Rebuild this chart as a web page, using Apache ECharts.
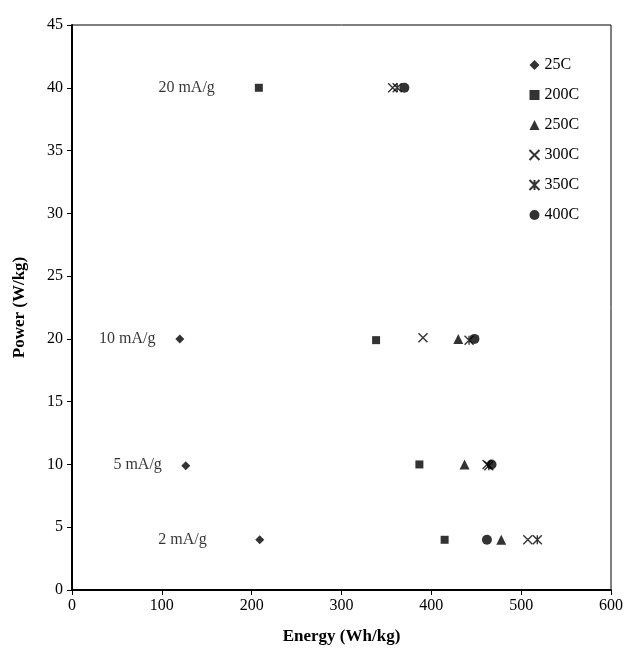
<!DOCTYPE html>
<html>
<head>
<meta charset="utf-8">
<script src="https://cdn.jsdelivr.net/npm/echarts@6/dist/echarts.min.js"></script>
<style>html,body{margin:0;padding:0;background:#fff}#c{width:626px;height:655px}</style>
</head>
<body>
<div id="c"></div>
<script>
var seriesNames = ['25C', '200C', '250C', '300C', '350C', '400C'];
var s25C  = [[120, 20], [126.6, 9.9], [209, 4]];
var s200C = [[208, 40], [338.5, 19.9], [386.7, 10], [414.8, 4]];
var s250C = [[430, 20], [437, 10], [477.8, 4]];
var s300C = [[357, 40], [390.7, 20.1], [462, 10], [507.4, 4]];
var s350C = [[362, 40], [442, 19.9], [464, 9.9], [518, 4]];
var s400C = [[370, 40], [448, 20], [467, 10], [461.9, 4]];
var annotText = ['20 mA/g', '10 mA/g', '5 mA/g', '2 mA/g'];
var annotX = [159, 93, 100, 150];
var annotY = [40, 20, 10, 4];
var xTicks = [0, 100, 200, 300, 400, 500, 600];
var yTicks = [0, 5, 10, 15, 20, 25, 30, 35, 40, 45];

var serif = '"Liberation Serif", "DejaVu Serif", serif';
var crossPath = 'path://M0,0L10,10M10,0L0,10';
var starPath = 'path://M0,0L10,10M10,0L0,10M5,0L5,10';
var symbols = ['diamond', 'rect', 'triangle', crossPath, starPath, 'circle'];
var sizes = [[9, 9], 8, 10, 9, 9, 10];
var data = [s25C, s200C, s250C, s300C, s350C, s400C];

var series = seriesNames.map(function (n, i) {
  var stroke = (i === 3 || i === 4);
  return {
    name: n, type: 'scatter', data: data[i], symbol: symbols[i], symbolSize: sizes[i],
    itemStyle: stroke ? { color: 'none', borderColor: '#000', borderWidth: 1.4 } : { color: '#000' },
    emphasis: { disabled: true }, z: 3
  };
});
series.push({
  name: 'annot', type: 'scatter', symbolSize: 0, silent: true,
  data: annotText.map(function (t, i) { return { value: [annotX[i], annotY[i]], name: t }; }),
  label: { show: true, position: 'left', distance: 0, formatter: '{b}', color: '#000', fontFamily: serif, fontSize: 16 }
});

var chart = echarts.init(document.getElementById('c'), null, { renderer: 'canvas' });
chart.setOption({
  animation: false,
  backgroundColor: '#fff',
  grid: { left: 72, right: 14, top: 25, bottom: 65, show: true, borderColor: '#000', borderWidth: 1 },
  legend: {
    data: seriesNames, orient: 'vertical', left: 522, top: 52, itemGap: 14,
    itemWidth: 10, itemHeight: 10,
    textStyle: { fontFamily: serif, fontSize: 16, color: '#000' }
  },
  xAxis: {
    type: 'value', min: xTicks[0], max: xTicks[xTicks.length - 1], interval: 100,
    name: 'Energy (Wh/kg)', nameLocation: 'middle', nameGap: 38,
    nameTextStyle: { fontFamily: serif, fontSize: 17, fontWeight: 'bold', color: '#000' },
    axisLine: { show: true, lineStyle: { color: '#000', width: 2 } },
    axisTick: { show: true, length: 5, lineStyle: { color: '#000', width: 1 } },
    axisLabel: { fontFamily: serif, fontSize: 16, color: '#000', margin: 8 },
    splitLine: { show: false }
  },
  yAxis: {
    type: 'value', min: yTicks[0], max: yTicks[yTicks.length - 1], interval: 5,
    name: 'Power (W/kg)', nameLocation: 'middle', nameGap: 44, nameRotate: 90,
    nameTextStyle: { fontFamily: serif, fontSize: 17, fontWeight: 'bold', color: '#000' },
    axisLine: { show: true, lineStyle: { color: '#000', width: 2 } },
    axisTick: { show: true, length: 5, lineStyle: { color: '#000', width: 1 } },
    axisLabel: { fontFamily: serif, fontSize: 16, color: '#000', margin: 9 },
    splitLine: { show: false }
  },
  series: series
});
</script>
</body>
</html>
